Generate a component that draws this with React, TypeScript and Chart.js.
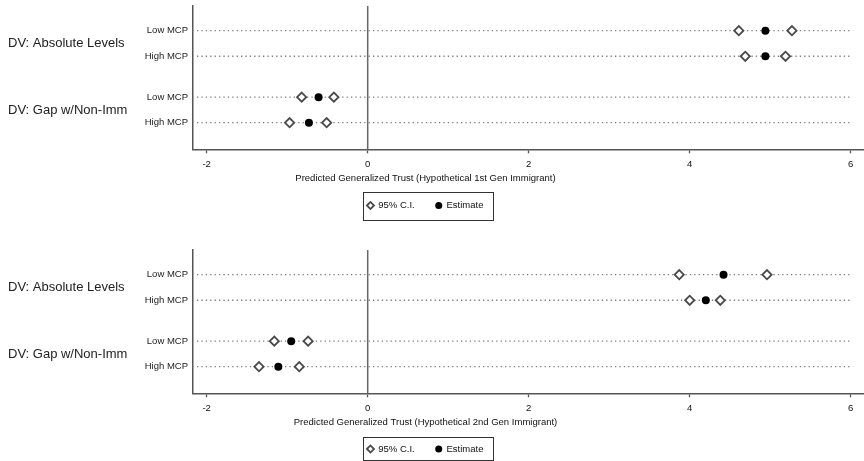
import React, { useEffect, useRef } from 'react';
import { Chart, registerables } from 'chart.js';

Chart.register(...registerables);

// ---------- data ----------
const rowLabels = ['Low MCP', 'High MCP', 'Low MCP', 'High MCP'];
const rowPositions = [1, 2, 3.6, 4.6];
const groupLabels = ['DV: Absolute Levels', 'DV: Gap w/Non-Imm'];
const groupPositions = [1.5, 4.1];
const xTicks = [-2, 0, 2, 4, 6];
const xMin = -2.17;
const xMax = 6.165;

const gen1Estimate = [4.94, 4.94, -0.61, -0.73];
const gen1Lower = [4.61, 4.69, -0.82, -0.97];
const gen1Upper = [5.27, 5.19, -0.42, -0.51];

const gen2Estimate = [4.42, 4.2, -0.95, -1.11];
const gen2Lower = [3.87, 4.0, -1.16, -1.35];
const gen2Upper = [4.96, 4.38, -0.74, -0.85];

const axisTitles = [
  'Predicted Generalized Trust (Hypothetical 1st Gen Immigrant)',
  'Predicted Generalized Trust (Hypothetical 2nd Gen Immigrant)',
];
const legendLabels = ['95% C.I.', 'Estimate'];

// ---------- styling ----------
const NARROW = "'Liberation Sans Narrow', 'Arial Narrow', 'Liberation Sans', Arial, sans-serif";
const REG = "'Liberation Sans', Arial, Helvetica, sans-serif";
const SHIFT = 13; // canvas starts this far left of the page
const CANVAS_W = 864 + SHIFT;
const CANVAS_H = 242;
const Y_AXIS_W = 193 + SHIFT;
const AXIS_Y = 149.3;
const X_AXIS_H = 22;
const TITLE_Y = 178.5;
const LEG_PAD = 21;

function fitFontSize(text: string, family: string, target: number): number {
  const c = document.createElement('canvas').getContext('2d');
  if (!c) return 11;
  c.font = `100px ${family}`;
  const w = c.measureText(text).width;
  return w > 0 ? (100 * target) / w : 11;
}

function makeConfig(
  lower: number[],
  upper: number[],
  est: number[],
  title: string,
  f: number,
  legendY: number,
  frameUp: number,
  frameDown: number
): any {
  const tpT = TITLE_Y - (AXIS_Y + X_AXIS_H) - f / 2;
  const tpB = legendY - TITLE_Y - LEG_PAD - f / 2;
  const legendH = f * 0.5 + tpT + tpB + f + LEG_PAD + 10;
  const padB = CANVAS_H - AXIS_Y - X_AXIS_H - legendH;

  const decor = {
    id: 'decor',
    beforeDatasetsDraw(chart: any) {
      const { ctx, chartArea, scales } = chart;
      const x = scales.x;
      const y = scales.y;
      ctx.save();
      ctx.strokeStyle = '#7c7c7c';
      ctx.lineWidth = 1.3;
      ctx.setLineDash([1.3, 3.1]);
      const x0 = chartArea.left + 4;
      const x1 = x.getPixelForValue(6) + 2;
      rowPositions.forEach((v) => {
        const py = y.getPixelForValue(v);
        ctx.beginPath();
        ctx.moveTo(x0, py);
        ctx.lineTo(x1, py);
        ctx.stroke();
      });
      ctx.setLineDash([]);
      ctx.strokeStyle = '#666';
      ctx.lineWidth = 1.5;
      const zx = x.getPixelForValue(0);
      ctx.beginPath();
      ctx.moveTo(zx, chartArea.top);
      ctx.lineTo(zx, chartArea.bottom);
      ctx.stroke();
      ctx.restore();
    },
    afterDraw(chart: any) {
      const { ctx, chartArea, scales } = chart;
      const y = scales.y;
      ctx.save();
      ctx.font = `13px ${REG}`;
      ctx.fillStyle = '#222';
      ctx.textAlign = 'left';
      ctx.textBaseline = 'middle';
      groupLabels.forEach((t, i) => {
        ctx.fillText(t, chartArea.left - 185, y.getPixelForValue(groupPositions[i]));
      });
      const boxes = chart.legend && chart.legend.legendHitBoxes;
      if (boxes && boxes.length) {
        const first = boxes[0];
        const last = boxes[boxes.length - 1];
        const cy = first.top + first.height / 2;
        const left = Math.round(first.left - 4) + 0.5;
        const right = Math.round(last.left + last.width + 9) + 0.5;
        const top = Math.round(cy - frameUp) + 0.5;
        const bottom = Math.round(cy + frameDown) + 0.5;
        ctx.strokeStyle = '#333';
        ctx.lineWidth = 1;
        ctx.strokeRect(left, top, right - left, bottom - top);
      }
      ctx.restore();
    },
  };

  return {
    type: 'scatter',
    data: {
      datasets: [
        {
          label: legendLabels[0],
          data: rowPositions.flatMap((yv, i) => [
            { x: lower[i], y: yv },
            { x: upper[i], y: yv },
          ]),
          pointStyle: 'rectRot',
          pointRadius: 4.6,
          borderWidth: 1.8,
          borderColor: '#4a4a4a',
          backgroundColor: '#ffffff',
          showLine: false,
        },
        {
          label: legendLabels[1],
          data: rowPositions.map((yv, i) => ({ x: est[i], y: yv })),
          pointStyle: 'circle',
          pointRadius: 4,
          borderWidth: 0,
          borderColor: '#000',
          backgroundColor: '#000',
          showLine: false,
        },
      ],
    },
    options: {
      animation: false,
      responsive: false,
      devicePixelRatio: 1,
      events: [],
      layout: { autoPadding: false, padding: { top: 6, bottom: padB, left: 0, right: 0 } },
      plugins: {
        tooltip: { enabled: false },
        title: { display: false },
        legend: {
          display: true,
          position: 'bottom',
          align: 'center',
          labels: {
            usePointStyle: true,
            boxWidth: 6,
            boxHeight: 5,
            padding: LEG_PAD,
            color: '#111',
            font: { family: NARROW, size: f },
          },
          title: {
            display: true,
            text: title,
            color: '#111',
            position: 'center',
            padding: { top: tpT, bottom: tpB },
            font: { family: NARROW, size: f, lineHeight: 0.5 },
          },
        },
      },
      scales: {
        x: {
          type: 'linear',
          position: 'bottom',
          min: xMin,
          max: xMax,
          afterBuildTicks: (s: any) => {
            s.ticks = xTicks.map((v) => ({ value: v }));
          },
          afterFit: (s: any) => {
            s.height = X_AXIS_H;
            s.paddingLeft = 0;
            s.paddingRight = 0;
          },
          grid: {
            display: true,
            drawOnChartArea: false,
            drawTicks: true,
            tickLength: 4,
            tickWidth: 1.3,
            tickColor: '#555',
          },
          border: { display: true, color: '#555', width: 1.5 },
          ticks: {
            color: '#111',
            padding: 5,
            maxRotation: 0,
            autoSkip: false,
            font: { family: NARROW, size: f },
            callback: (v: any) => String(v),
          },
        },
        y: {
          type: 'linear',
          reverse: true,
          min: 0.034,
          max: 5.64,
          afterBuildTicks: (s: any) => {
            s.ticks = rowPositions.map((v) => ({ value: v }));
          },
          afterFit: (s: any) => {
            s.width = Y_AXIS_W;
            s.paddingTop = 0;
            s.paddingBottom = 0;
          },
          grid: { display: false, drawTicks: false },
          border: { display: true, color: '#555', width: 1.5 },
          ticks: {
            color: '#222',
            padding: 5,
            autoSkip: false,
            font: { family: REG, size: 9.5 },
            callback: (v: any) => {
              const idx = rowPositions.indexOf(Number(v));
              return idx >= 0 ? rowLabels[idx] : '';
            },
          },
        },
      },
    },
    plugins: [decor],
  };
}

export default function App() {
  const topRef = useRef<HTMLCanvasElement>(null);
  const botRef = useRef<HTMLCanvasElement>(null);

  useEffect(() => {
    const f = fitFontSize(axisTitles[0], NARROW, 261);
    const charts: Chart[] = [];
    if (topRef.current) {
      charts.push(
        new Chart(
          topRef.current,
          makeConfig(gen1Lower, gen1Upper, gen1Estimate, axisTitles[0], f, 205.5, 14, 14)
        )
      );
    }
    if (botRef.current) {
      charts.push(
        new Chart(
          botRef.current,
          makeConfig(gen2Lower, gen2Upper, gen2Estimate, axisTitles[1], f, 205, 12.5, 11)
        )
      );
    }
    return () => charts.forEach((c) => c.destroy());
  }, []);

  return (
    <div
      style={{
        position: 'fixed',
        left: -SHIFT,
        top: 0,
        width: CANVAS_W,
        height: 461,
        overflow: 'hidden',
        background: '#fff',
      }}
    >
      <canvas
        ref={topRef}
        width={CANVAS_W}
        height={CANVAS_H}
        style={{ position: 'absolute', left: 0, top: 0, width: CANVAS_W, height: CANVAS_H }}
      />
      <canvas
        ref={botRef}
        width={CANVAS_W}
        height={CANVAS_H}
        style={{ position: 'absolute', left: 0, top: 244, width: CANVAS_W, height: CANVAS_H }}
      />
    </div>
  );
}
